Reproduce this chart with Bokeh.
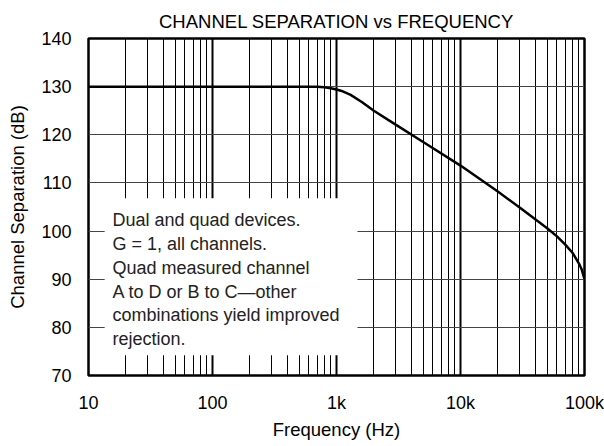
from bokeh.plotting import figure
from bokeh.models import Range1d, FixedTicker, BoxAnnotation, Label
from bokeh.embed import file_html
from bokeh.resources import INLINE

# Data
freq_hz = [10, 100, 500, 700, 800, 900, 1000, 1100, 1300, 1600, 2000, 3000, 5000, 10000,
           20000, 30000, 50000, 60000, 70000, 80000, 90000, 95000, 100000]
separation_db = [130.0, 130.0, 130.0, 130.0, 129.85, 129.65, 129.4, 129.1, 128.3, 126.8, 125.0, 122.1,
                 118.5, 113.6, 108.2, 104.9, 100.6, 98.9, 97.2, 95.5, 93.3, 92.0, 90.0]

x_major = [10, 100, 1000, 10000, 100000]
x_labels = ["10", "100", "1k", "10k", "100k"]
y_ticks = [70, 80, 90, 100, 110, 120, 130, 140]
x_minor = [m * d for d in x_major[:-1] for m in range(2, 10)]

note_lines = ["Dual and quad devices.",
              "G = 1, all channels.",
              "Quad measured channel",
              "A to D or B to C\u2014other",
              "combinations yield improved",
              "rejection."]

FONT = "Liberation Sans"

p = figure(width=604, height=446, x_axis_type="log",
           x_range=Range1d(10, 100000), y_range=Range1d(70, 140),
           output_backend="svg", toolbar_location=None,
           title="CHANNEL SEPARATION vs FREQUENCY",
           min_border_left=88, min_border_right=20, min_border_top=38, min_border_bottom=71)

p.title.align = "center"
p.title.text_font = FONT
p.title.text_font_size = "18.5px"
p.title.text_font_style = "normal"
p.title.text_color = "black"
p.title.standoff = 13

p.outline_line_color = "black"
p.outline_line_width = 2.5

# grids
p.xgrid.ticker = FixedTicker(ticks=x_major, minor_ticks=x_minor)
p.xgrid.grid_line_color = "black"
p.xgrid.grid_line_width = 2
p.xgrid.minor_grid_line_color = "black"
p.xgrid.minor_grid_line_width = 1
p.ygrid.ticker = FixedTicker(ticks=y_ticks)
p.ygrid.grid_line_color = "#444444"
p.ygrid.grid_line_width = 1

# axes
p.xaxis.ticker = FixedTicker(ticks=x_major, minor_ticks=[])
p.xaxis.major_label_overrides = {v: s for v, s in zip(x_major, x_labels)}
p.yaxis.ticker = FixedTicker(ticks=y_ticks, minor_ticks=[])
for ax in (p.xaxis[0], p.yaxis[0]):
    ax.axis_line_color = None
    ax.major_tick_line_color = None
    ax.minor_tick_line_color = None
    ax.major_tick_out = 0
    ax.major_tick_in = 0
    ax.major_label_text_font = FONT
    ax.major_label_text_font_size = "18px"
    ax.major_label_text_color = "black"
    ax.axis_label_text_font = FONT
    ax.axis_label_text_font_size = "18.5px"
    ax.axis_label_text_font_style = "normal"
    ax.axis_label_text_color = "black"
p.xaxis.axis_label = "Frequency (Hz)"
p.yaxis.axis_label = "Channel Separation (dB)"
p.xaxis.major_label_standoff = 17
p.xaxis.axis_label_standoff = 3
p.yaxis.major_label_standoff = 17
p.yaxis.axis_label_standoff = 10

# curve
p.line(freq_hz, separation_db, line_color="black", line_width=2.5)

# annotation box with note text
p.add_layout(BoxAnnotation(left=13.5, right=1476, bottom=74.2, top=106.8,
                           fill_color="white", fill_alpha=1.0, line_color=None))
baseline0 = 102.2
step = 4.92
for i, line in enumerate(note_lines):
    p.add_layout(Label(x=15.6, y=baseline0 - i * step, text=line,
                       text_font=FONT, text_font_size="18px", text_color="#222222",
                       text_baseline="alphabetic", text_align="left"))

open("out.html", "w").write(file_html(p, INLINE))
